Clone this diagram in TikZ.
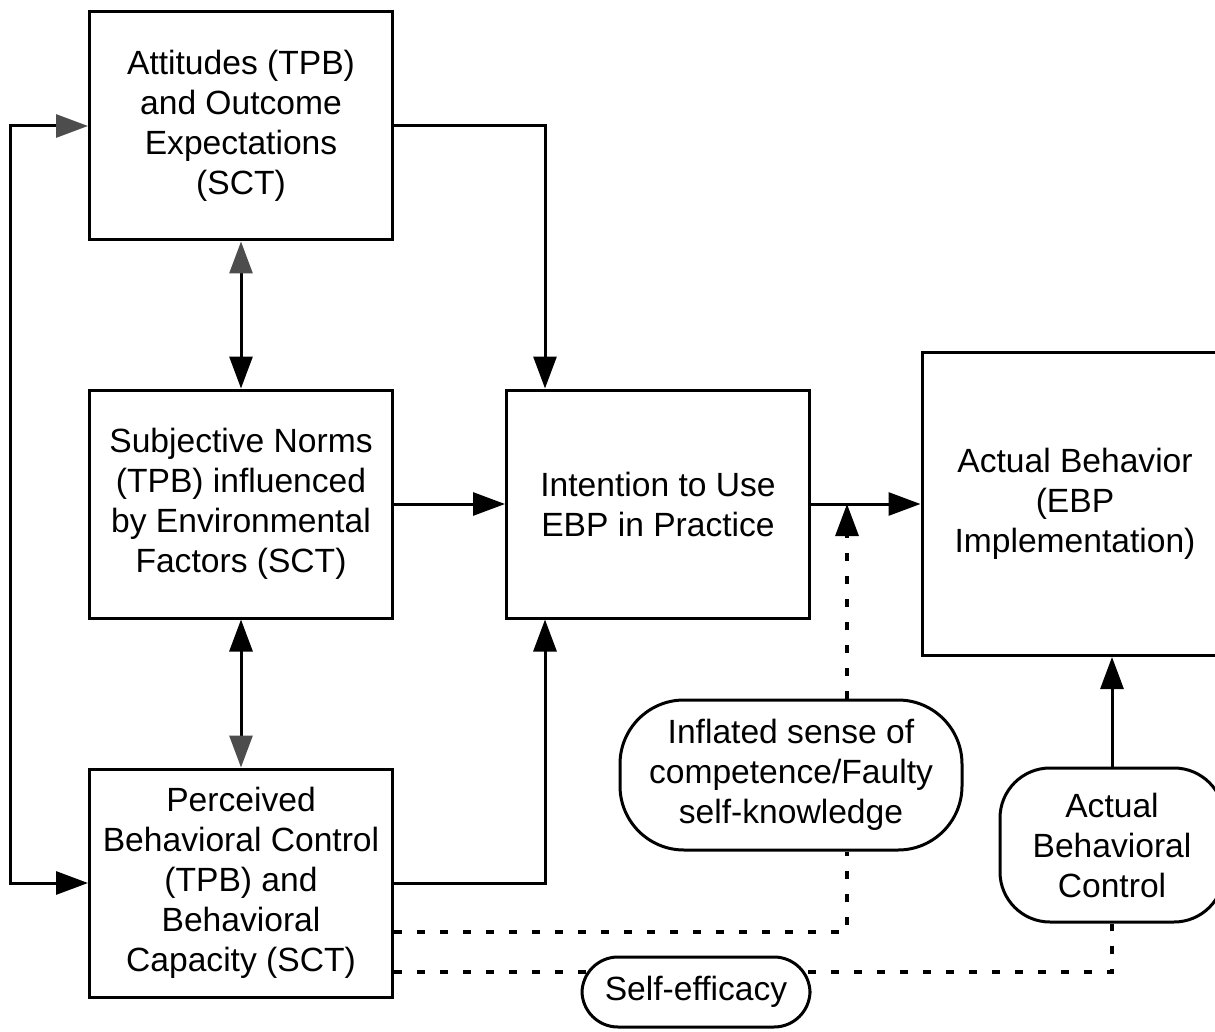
\documentclass[tikz,border=0pt]{standalone}
\usepackage{fontspec}
\setmainfont{Liberation Sans}
\usetikzlibrary{arrows.meta}
\definecolor{tipgray}{HTML}{4D4D4D}
\tikzset{
  blk/.tip={Triangle[length=16pt,width=11.5pt]},
  gry/.tip={Triangle[length=16pt,width=11.5pt,color=tipgray]},
}
\begin{document}
\begin{tikzpicture}[x=0.5pt,y=-0.5pt,line width=1.5pt,
    font=\fontsize{16.8}{20}\selectfont,
    box/.style={draw,align=center,minimum width=151.5pt,minimum height=114pt},
    oval/.style={draw,fill=white,align=center,rounded corners=#1},
    dots/.style={line width=1.6pt,dash pattern=on 4pt off 7.5pt}]

    \clip (0,0) rectangle (1215,1032);

    \node[box] (att) at (241,126) {Attitudes (TPB)\\and Outcome\\Expectations\\(SCT)};
    \node[box] (norm) at (241,504) {Subjective Norms\\(TPB) influenced\\by Environmental\\Factors (SCT)};
    \node[box] (pbc) at (241,883) {Perceived\\Behavioral Control\\(TPB) and\\Behavioral\\Capacity (SCT)};
    \node[box] (int) at (658,504) {Intention to Use\\EBP in Practice};
    \node[box,minimum width=153pt,minimum height=151.5pt] (beh) at (1075,504) {Actual Behavior\\(EBP\\Implementation)};
    \node[oval=32pt,minimum width=171pt,minimum height=75pt] (infl) at (791,775) {Inflated sense of\\competence/Faulty\\self-knowledge};
    \node[oval=25pt,minimum width=112pt,minimum height=77pt] (abc) at (1112,845) {Actual\\Behavioral\\Control};

    \draw[{gry}-{blk}] (att.west) -- ++(-78,0) |- (pbc.west);
    \draw[{gry}-{blk}] (att.south) -- (norm.north);
    \draw[{blk}-{gry}] (norm.south) -- (pbc.north);
    \coordinate (c1) at (545,0);
    \draw[-{blk}] (att.east) -| (c1 |- int.north);
    \draw[-{blk}] (norm.east) -- (int.west);
    \draw[-{blk}] (pbc.east) -| (c1 |- int.south);
    \draw[-{blk}] (int.east) -- (beh.west);
    \draw[-{blk}] (abc.north) -- (abc.north |- beh.south);

    % dotted links
    \coordinate (d1) at (847,932);
    \coordinate (d2) at (1112,972);
    \draw[dots,-{blk}] (d1 |- infl.north) -- (d1 |- int.east);
    \draw[dots] (pbc.east |- d1) -| (d1 |- infl.south);
    \draw[dots] (pbc.east |- d2) -- (d2) -- (abc.south);
    \node[oval=18pt,minimum width=114pt,minimum height=35pt] (self) at (696,992) {Self-efficacy};

\end{tikzpicture}
\end{document}
